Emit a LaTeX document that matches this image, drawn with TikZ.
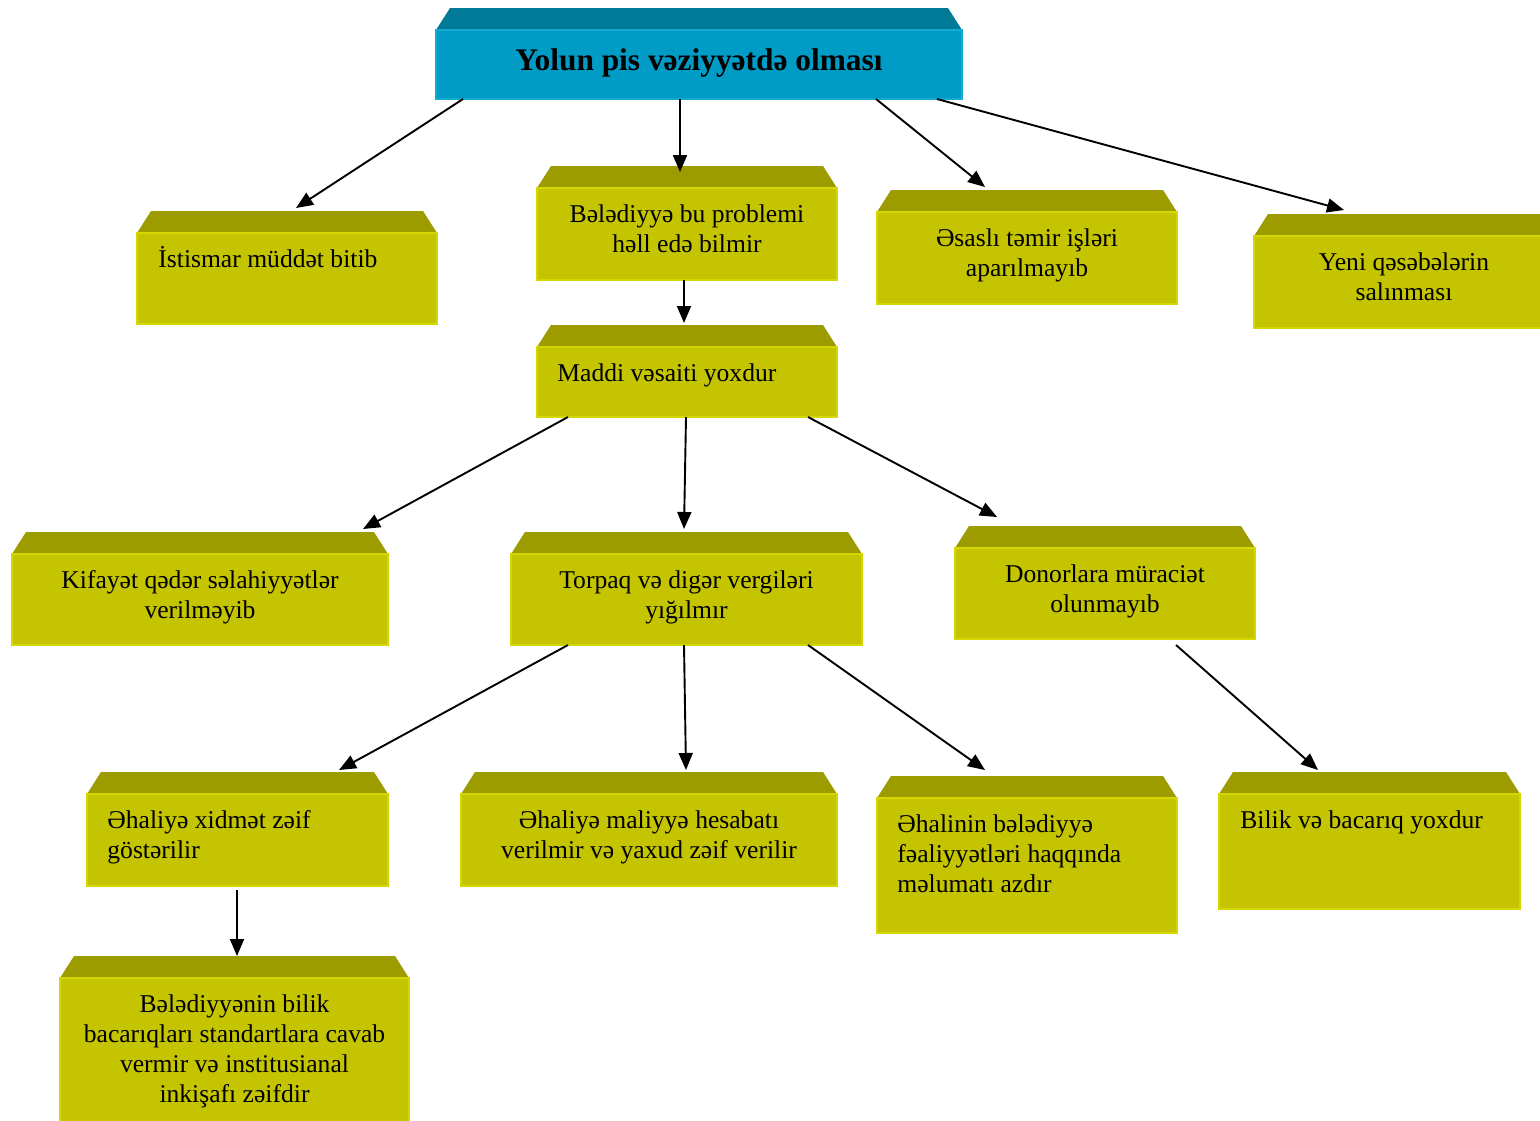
\documentclass[tikz,border=0pt]{standalone}
\usepackage{fontspec}
\setmainfont{Liberation Serif}
\usetikzlibrary{arrows.meta}
\definecolor{plateface}{RGB}{196,196,0}
\definecolor{platetop}{RGB}{156,156,0}
\definecolor{plateedge}{RGB}{214,214,0}
\definecolor{headface}{RGB}{0,156,198}
\definecolor{headtop}{RGB}{0,122,150}
\definecolor{headedge}{RGB}{20,170,210}
\tikzset{
  face/.style={inner sep=0pt, outer sep=0pt, line width=0.8pt, anchor=north west},
  txt/.style={inner sep=0pt, font=\fontsize{12.8}{15}\selectfont},
  headtxt/.style={inner sep=0pt, font=\fontsize{15.7}{18}\selectfont\bfseries},
  arr/.style={line width=0.95pt, -{Triangle[length=8.5pt,width=7pt]}}
}
% box with bevelled top: name, face corners (px, y downwards), top colour, face colour, edge colour
\def\plate(#1)(#2,#3)(#4,#5)[#6,#7,#8]{%
  \fill[#6] (#2,-#3) -- (#2+14,-#3+22) -- (#4-14,-#3+22) -- (#4,-#3) -- cycle;
  \node[face, draw=#8, fill=#7, minimum width={(#4-#2)*0.5pt}, minimum height={(#5-#3)*0.5pt}] (#1) at (#2,-#3) {};
}
\begin{document}
\begin{tikzpicture}[x=0.5pt, y=0.5pt]
    %%%%% FRAME %%%%%
    \useasboundingbox (0,0) rectangle (1540,-1120);
    \clip (0,0) rectangle (1540,-1120);

    %%%%% BOXES %%%%%
    \plate(top)(436,30)(962,99)[headtop,headface,headedge]
    \plate(ist)(137,233)(437,324)[platetop,plateface,plateedge]
    \plate(bel)(537,188)(837,280)[platetop,plateface,plateedge]
    \plate(ass)(877,212)(1177,304)[platetop,plateface,plateedge]
    \plate(yeni)(1254,236)(1554,328)[platetop,plateface,plateedge]
    \plate(mad)(537,347)(837,417)[platetop,plateface,plateedge]
    \plate(kif)(12,554)(388,645)[platetop,plateface,plateedge]
    \plate(tor)(511,554)(862,645)[platetop,plateface,plateedge]
    \plate(don)(955,548)(1255,639)[platetop,plateface,plateedge]
    \plate(xid)(87,794)(388,886)[platetop,plateface,plateedge]
    \plate(mal)(461,794)(837,886)[platetop,plateface,plateedge]
    \plate(ehn)(877,798)(1177,933)[platetop,plateface,plateedge]
    \plate(bil)(1219,794)(1520,909)[platetop,plateface,plateedge]
    \plate(bbl)(60,978)(409,1140)[platetop,plateface,plateedge]

    %%%%% TEXTS %%%%% (base = last line)
    \node[headtxt, anchor=base] (top-t) at ([shift={(0,-40)}]top.north) {Yolun pis vəziyyətdə olması};
    \node[txt, anchor=base west] (ist-t) at ([shift={(21,-34)}]ist.north west) {İstismar müddət bitib};
    \node[txt, anchor=base, align=center] (bel-t) at ([shift={(0,-64)}]bel.north) {Bələdiyyə bu problemi\\həll edə bilmir};
    \node[txt, anchor=base, align=center] (ass-t) at ([shift={(0,-64)}]ass.north) {Əsaslı təmir işləri\\aparılmayıb};
    \node[txt, anchor=base, align=center] (yeni-t) at ([shift={(0,-64)}]yeni.north) {Yeni qəsəbələrin\\salınması};
    \node[txt, anchor=base west] (mad-t) at ([shift={(20,-34)}]mad.north west) {Maddi vəsaiti yoxdur};
    \node[txt, anchor=base, align=center] (kif-t) at ([shift={(0,-64)}]kif.north) {Kifayət qədər səlahiyyətlər\\verilməyib};
    \node[txt, anchor=base, align=center] (tor-t) at ([shift={(0,-64)}]tor.north) {Torpaq və digər vergiləri\\yığılmır};
    \node[txt, anchor=base, align=center] (don-t) at ([shift={(0,-64)}]don.north) {Donorlara müraciət\\olunmayıb};
    \node[txt, anchor=base west, align=left] (xid-t) at ([shift={(20,-64)}]xid.north west) {Əhaliyə xidmət zəif\\göstərilir};
    \node[txt, anchor=base, align=center] (mal-t) at ([shift={(0,-64)}]mal.north) {Əhaliyə maliyyə hesabatı\\verilmir və yaxud zəif verilir};
    \node[txt, anchor=base west, align=left] (ehn-t) at ([shift={(20,-94)}]ehn.north west) {Əhalinin bələdiyyə\\fəaliyyətləri haqqında\\məlumatı azdır};
    \node[txt, anchor=base west] (bil-t) at ([shift={(21,-34)}]bil.north west) {Bilik və bacarıq yoxdur};
    \node[txt, anchor=base, align=center] (bbl-t) at ([shift={(0,-124)}]bbl.north) {Bələdiyyənin bilik\\bacarıqları standartlara cavab\\vermir və institusianal\\inkişafı zəifdir};

    %%%%% ARROWS %%%%%
    \draw[arr] ([shift={(27,0)}]top.south west) -- ([shift={(159,25)}]ist.north west);
    \draw[arr] ([shift={(244,0)}]top.south west) -- ([shift={(143,16)}]bel.north west);
    \draw[arr] ([shift={(440,0)}]top.south west) -- ([shift={(108,25)}]ass.north west);
    \draw[arr] ([shift={(501,0)}]top.south west) -- ([shift={(90,26)}]yeni.north west);
    \draw[arr] ([shift={(147,0)}]bel.south west) -- ([shift={(147,24)}]mad.north west);
    \draw[arr] ([shift={(31,0)}]mad.south west) -- ([shift={(351,25)}]kif.north west);
    \draw[arr] ([shift={(149,0)}]mad.south west) -- ([shift={(173,25)}]tor.north west);
    \draw[arr] ([shift={(271,0)}]mad.south west) -- ([shift={(42,31)}]don.north west);
    \draw[arr] ([shift={(57,0)}]tor.south west) -- ([shift={(252,24)}]xid.north west);
    \draw[arr] ([shift={(173,0)}]tor.south west) -- ([shift={(225,24)}]mal.north west);
    \draw[arr] ([shift={(297,0)}]tor.south west) -- ([shift={(108,28)}]ehn.north west);
    \draw[arr] ([shift={(221,-6)}]don.south west) -- ([shift={(99,24)}]bil.north west);
    \draw[arr] ([shift={(150,-4)}]xid.south west) -- ([shift={(177,22)}]bbl.north west);
\end{tikzpicture}
\end{document}
